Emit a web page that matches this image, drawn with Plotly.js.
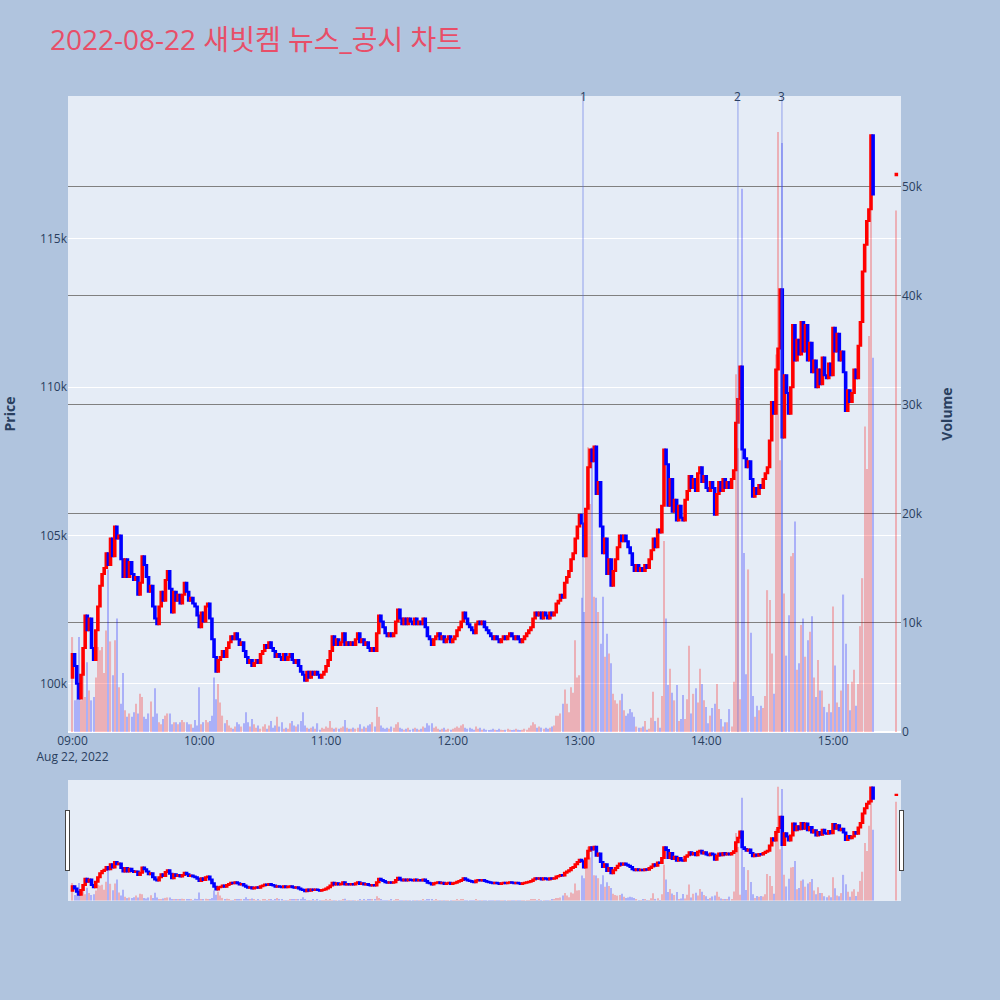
<!DOCTYPE html>
<html>
<head>
<meta charset="utf-8">
<script src="https://cdn.plot.ly/plotly-3.0.1.min.js"></script>
<style>
  html, body { margin: 0; padding: 0; background: #B0C4DE; }
  #chart { width: 1000px; height: 1000px; }
</style>
</head>
<body>
<div id="chart"></div>
<script>
// 새빗켐 1분봉, 2022-08-22 09:00 ~ 15:19 (+ 15:30 종가 단일가)
var tradeDate = '2022-08-22';
var firstOpen = 100200;

// minute closes, one row = 10 minutes
var closes = [
  101000, 100600, 100000, 99500, 100300, 101200, 102300, 101800, 102200, 101200,
  100800, 101800, 102600, 103300, 103700, 103900, 104400, 104000, 104900, 104300,
  105300, 104900, 105000, 104200, 103600, 104200, 103600, 104100, 103700, 103500,
  103600, 103000, 103400, 104300, 104000, 103600, 103100, 103300, 102600, 102200,
  102000, 102600, 103100, 102800, 103500, 103800, 103200, 102400, 103100, 102800,
  103000, 102700, 103000, 103400, 103100, 102800, 102900, 102700, 102600, 102300,
  101900, 102400, 102100, 102600, 102700, 102200, 101500, 100900, 100400, 100800,
  100900, 101100, 100900, 101200, 101400, 101600, 101500, 101700, 101500, 101300,
  101400, 101100, 100900, 100700, 100800, 100600, 100700, 100800, 100700, 101000,
  101100, 101300, 101200, 101400, 101200, 101100, 100900, 101000, 100900, 100800,
  101000, 100800, 100900, 101000, 100800, 100700, 100800, 100600, 100400, 100300,
  100100, 100400, 100200, 100400, 100300, 100400, 100300, 100200, 100300, 100400,
  100600, 100800, 101100, 101600, 101300, 101500, 101300, 101400, 101700, 101300,
  101400, 101300, 101400, 101300, 101500, 101700, 101400, 101500, 101300, 101400,
  101200, 101100, 101200, 101100, 101700, 102300, 102100, 101900, 101700, 101600,
  101700, 101600, 101700, 102100, 102500, 102200, 102000, 102200, 102000, 102200,
  102100, 102000, 102200, 102000, 102100, 102000, 102200, 101900, 101600, 101500,
  101300, 101500, 101600, 101700, 101500, 101600, 101400, 101500, 101600, 101400,
  101500, 101600, 101800, 101900, 102100, 102400, 102200, 102000, 101900, 101800,
  101700, 102000, 102100, 102000, 102100, 101900, 101800, 101700, 101600, 101500,
  101600, 101500, 101400, 101500, 101600, 101500, 101600, 101700, 101600, 101500,
  101600, 101500, 101400, 101500, 101600, 101700, 101800, 101900, 102200, 102400,
  102300, 102400, 102200, 102400, 102300, 102200, 102400, 102300, 102400, 102700,
  102800, 103000, 102900, 103400, 103600, 103800, 104200, 104400, 104900, 105300,
  105700, 105400, 104300, 105900, 107300, 107900, 107500, 108000, 106400, 106800,
  105300, 104400, 104900, 103700, 104200, 103300, 103800, 104200, 104600, 105000,
  104800, 105000, 104800, 104600, 104400, 104000, 103800, 104000, 103800, 103900,
  103800, 104000, 103900, 104200, 104500, 104900, 104600, 105200, 105100, 106000,
  107900, 107400, 106000, 106900, 105800, 106200, 105500, 106000, 105600, 105500,
  106200, 106500, 107000, 106600, 106900, 106500, 107100, 107300, 106800, 107000,
  106600, 106500, 106800, 106600, 105700, 106400, 106800, 106500, 106900, 106600,
  106800, 106600, 106900, 107200, 108800, 109600, 110700, 107900, 107600, 107300,
  107500, 106900, 106300, 106600, 106400, 106700, 106600, 106900, 107100, 107300,
  108200, 109500, 109100, 110600, 111300, 113300, 108300, 110400, 109800, 109100,
  110000, 112100, 110900, 111600, 111100, 112200, 111200, 112100, 110900, 111500,
  110500, 110900, 110000, 110600, 110100, 111000, 110400, 110300, 110800, 110400,
  112000, 111200, 111800, 110900, 111200, 110500, 109200, 109900, 109500, 109800,
  110600, 110300, 111400, 112200, 113900, 114800, 115600, 116000, 118500, 116500
];

var volumes = [
  8700, 2900, 4700, 8700, 2900, 6300, 3200, 6400, 3800, 2900,
  3200, 5000, 7800, 7500, 7800, 5400, 9300, 14900, 8300, 5200,
  8400, 10400, 4100, 2600, 5400, 2000, 1400, 1700, 1400, 1800,
  2600, 1700, 3500, 3200, 1400, 1200, 1700, 2800, 1400, 4000,
  1700, 900, 700, 1200, 1500, 1700, 1700, 700, 900, 900,
  700, 900, 1100, 900, 900, 700, 700, 400, 1100, 600,
  4100, 700, 900, 1100, 900, 1000, 1500, 5000, 3000, 4400,
  2700, 1500, 800, 1100, 600, 400, 300, 500, 900, 700,
  500, 800, 1800, 900, 500, 1200, 700, 400, 600, 300,
  500, 700, 300, 600, 1000, 400, 600, 1400, 500, 900,
  300, 400, 300, 800, 1000, 600, 500, 700, 1000, 1800,
  600, 400, 300, 400, 500, 300, 800, 200, 400, 300,
  500, 400, 1000, 400, 300, 400, 300, 400, 500, 1100,
  400, 300, 300, 400, 300, 400, 700, 300, 500, 400,
  600, 700, 900, 500, 2300, 1400, 600, 400, 300, 400,
  300, 500, 400, 700, 900, 400, 300, 200, 300, 400,
  200, 300, 400, 300, 200, 300, 500, 400, 800, 600,
  800, 400, 500, 300, 200, 300, 400, 200, 300, 200,
  300, 400, 500, 400, 600, 700, 400, 300, 400, 300,
  200, 500, 300, 400, 200, 300, 200, 100, 200, 300,
  200, 100, 300, 200, 100, 200, 300, 200, 100, 200,
  300, 200, 100, 200, 300, 200, 400, 600, 900, 700,
  400, 500, 400, 300, 400, 300, 400, 500, 600, 1500,
  1500, 1700, 2600, 3900, 2600, 1800, 4100, 3600, 8400, 5000,
  5200, 12300, 11000, 20100, 26100, 20900, 26100, 12400, 12300, 11000,
  8100, 12400, 6900, 9000, 7200, 6300, 3500, 2900, 2600, 2900,
  3500, 2000, 1500, 1700, 2100, 1800, 1400, 500, 400, 400,
  500, 1000, 200, 300, 1300, 3700, 1000, 1300, 400, 3300,
  17500, 10400, 4300, 5800, 3600, 2900, 4300, 1000, 1200, 3400,
  1200, 3000, 7900, 1700, 3500, 4000, 2700, 5800, 4400, 2900,
  2300, 800, 1500, 2200, 2600, 4400, 2100, 1200, 500, 900,
  900, 2100, 500, 4600, 32800, 26000, 3000, 49800, 16400, 5300,
  14900, 9100, 3300, 1400, 2400, 2000, 2400, 2200, 3300, 13000,
  12100, 7200, 3500, 34600, 55000, 24900, 54000, 12700, 7000, 10700,
  16100, 16400, 19300, 5700, 6300, 9800, 10400, 6900, 8400, 9200,
  10600, 5000, 3200, 6600, 3800, 3800, 2300, 1800, 2600, 1800,
  11500, 6100, 2700, 2300, 3800, 12600, 8100, 4400, 2000, 4600,
  5700, 2400, 4400, 9700, 14100, 28000, 24100, 36300, 47900, 34300
];

// 종가 단일가 체결
var auctionTime = '2022-08-22 15:30';
var auctionOpen = 117150;
var auctionClose = 117200;
var auctionVolume = 47800;

// 뉴스/공시 시점
var newsTimes = ['2022-08-22 13:01:40', '2022-08-22 14:15:00', '2022-08-22 14:35:50'];
var newsLabels = ['1', '2', '3'];

function pad(n) { return (n < 10 ? '0' : '') + n; }

var times = [], opens = [], highs = [], lows = [], closeAll = [], vols = [];
for (var i = 0; i < closes.length; i++) {
  var h = 9 + Math.floor(i / 60), m = i % 60;
  times.push(tradeDate + ' ' + pad(h) + ':' + pad(m));
  var o = (i == 0) ? firstOpen : closes[i - 1];
  opens.push(o);
  closeAll.push(closes[i]);
  highs.push(Math.max(o, closes[i]));
  lows.push(Math.min(o, closes[i]));
  vols.push(volumes[i]);
}
times.push(auctionTime);
opens.push(auctionOpen);
closeAll.push(auctionClose);
highs.push(Math.max(auctionOpen, auctionClose));
lows.push(Math.min(auctionOpen, auctionClose));
vols.push(auctionVolume);

// 거래량 색: 양봉 빨강, 음봉 파랑
var volColors = [];
for (var j = 0; j < closeAll.length; j++) {
  volColors.push(closeAll[j] >= opens[j] ? 'red' : 'blue');
}

var candles = {
  type: 'candlestick',
  name: 'Price',
  x: times, open: opens, high: highs, low: lows, close: closeAll,
  increasing: { line: { color: 'red', width: 2 }, fillcolor: 'red' },
  decreasing: { line: { color: 'blue', width: 2 }, fillcolor: 'blue' },
  whiskerwidth: 0,
  yaxis: 'y'
};

var volumeBars = {
  type: 'bar',
  name: 'Volume',
  x: times, y: vols,
  marker: { color: volColors },
  opacity: 0.25,
  yaxis: 'y2'
};

var shapes = [], annotations = [];
for (var k = 0; k < newsTimes.length; k++) {
  shapes.push({
    type: 'line', xref: 'x', yref: 'paper',
    x0: newsTimes[k], x1: newsTimes[k], y0: 0, y1: 1,
    line: { color: 'rgba(90,110,230,0.4)', width: 1.5 }
  });
  annotations.push({
    xref: 'x', yref: 'paper', x: newsTimes[k], y: 1,
    text: newsLabels[k], showarrow: false, yanchor: 'middle',
    font: { size: 12, color: '#2a3f5f' }
  });
}

var layout = {
  width: 1000, height: 1000,
  paper_bgcolor: '#B0C4DE',
  plot_bgcolor: '#E5ECF6',
  font: { family: '"Open Sans", "Noto Sans CJK KR", verdana, arial, sans-serif', color: '#2a3f5f', size: 12 },
  margin: { l: 68, r: 99, t: 96, b: 100 },
  title: {
    text: '2022-08-22 새빗켐 뉴스_공시 차트',
    font: { size: 28, color: '#E84E68' },
    xref: 'container', x: 0.05, xanchor: 'left',
    yref: 'container', y: 0.96, yanchor: 'middle'
  },
  showlegend: false,
  bargap: 0.45,
  boxgap: 0.25,
  boxgroupgap: 0,
  xaxis: {
    type: 'date',
    range: ['2022-08-22 08:57:52', '2022-08-22 15:32:12'],
    tick0: '2022-08-22 09:00', dtick: 3600000,
    showgrid: false, zeroline: false,
    rangeslider: { visible: true, bgcolor: '#E5ECF6', thickness: 0.15 }
  },
  yaxis: {
    range: [98370, 119820], dtick: 5000,
    showgrid: true, gridcolor: 'white', gridwidth: 1, zeroline: false,
    title: { text: '<b>Price</b>', font: { size: 14 }, standoff: 28 }
  },
  yaxis2: {
    overlaying: 'y', side: 'right',
    range: [0, 58300], dtick: 10000,
    showgrid: true, gridcolor: 'gray', gridwidth: 1,
    zeroline: true, zerolinecolor: 'white', zerolinewidth: 2,
    title: { text: '<b>Volume</b>', font: { size: 14 }, standoff: 20 }
  },
  shapes: shapes,
  annotations: annotations
};

Plotly.newPlot('chart', [volumeBars, candles], layout, { displayModeBar: false });
</script>
</body>
</html>
